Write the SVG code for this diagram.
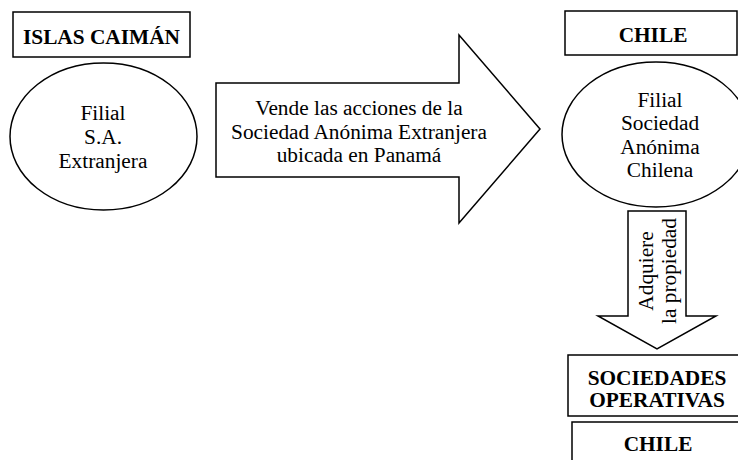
<svg xmlns="http://www.w3.org/2000/svg" width="738" height="460" viewBox="0 0 738 460">
<style>
.shape{fill:#fff;stroke:#000;stroke-width:1.5}
text{font-family:"Liberation Serif","Times New Roman",serif;font-size:21.33px;fill:#000;text-anchor:middle}
.b{font-weight:bold}
</style>
<rect width="738" height="460" fill="#fff"/>
<g id="islas-caiman">
<rect class="shape" x="13" y="12" width="177" height="45"/>
<text class="b" x="101.5" y="44">ISLAS CAIMÁN</text>
</g>
<g id="filial-sa-extranjera">
<ellipse class="shape" cx="103.5" cy="136.5" rx="93.5" ry="73.5"/>
<text x="103" y="120">Filial</text>
<text x="103" y="144">S.A.</text>
<text x="103" y="168">Extranjera</text>
</g>
<g id="chile-top">
<rect class="shape" x="565" y="11" width="172" height="44"/>
<text class="b" x="653" y="42">CHILE</text>
</g>
<g id="filial-sa-chilena">
<ellipse class="shape" cx="656" cy="134.5" rx="94" ry="72.5"/>
<text x="660" y="107">Filial</text>
<text x="660" y="130">Sociedad</text>
<text x="660" y="153.5">Anónima</text>
<text x="660" y="177">Chilena</text>
</g>
<g id="sociedades-operativas">
<rect class="shape" x="568" y="355" width="175" height="61"/>
<text class="b" x="657" y="385">SOCIEDADES</text>
<text class="b" x="657" y="407">OPERATIVAS</text>
</g>
<g id="chile-bottom">
<rect class="shape" x="572" y="422" width="170" height="50"/>
<text class="b" x="658" y="451">CHILE</text>
</g>
<g id="connectors">
<g id="arrow-vende">
<polygon class="shape" points="216,83 459,83 459,35 540,129 459,223 459,177 216,177"/>
<text x="359" y="115">Vende las acciones de la</text>
<text x="359" y="138.5">Sociedad Anónima Extranjera</text>
<text x="359" y="162">ubicada en Panamá</text>
</g>
<g id="arrow-adquiere">
<polygon class="shape" points="628,211 686,211 686,316 716,316 657,349 598,316 628,316"/>
<text transform="translate(653,271) rotate(-90)">Adquiere</text>
<text transform="translate(676,271) rotate(-90)">la propiedad</text>
</g>
</g>
</svg>
